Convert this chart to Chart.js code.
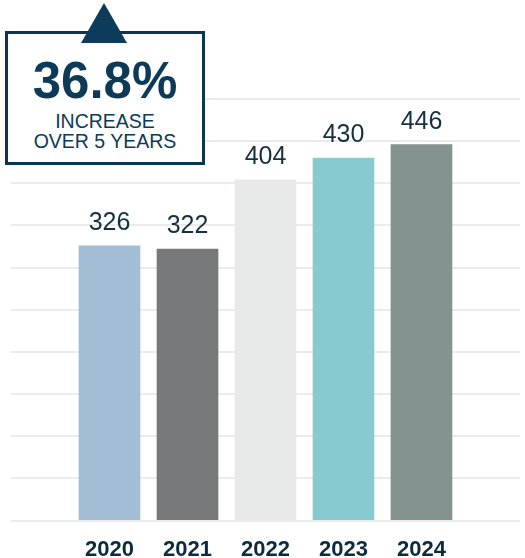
<!DOCTYPE html>
<html>
<head>
<meta charset="utf-8">
<script src="https://cdn.jsdelivr.net/npm/chart.js@4"></script>
<style>
  html, body { margin: 0; padding: 0; background: #fff; }
  body { width: 525px; height: 558px; position: relative; overflow: hidden; font-family: "Liberation Sans", Arial, sans-serif; }
  #chart-wrap { position: absolute; left: 0; top: 0; width: 525px; height: 558px; }
  .callout { position: absolute; left: 5px; top: 31px; width: 200px; height: 134px; box-sizing: border-box; border: 3px solid #0b3754; background: #fff; }
  .callout-arrow { position: absolute; left: 0; top: 0; }
  .callout-line { position: absolute; left: 5px; width: 200px; text-align: center; color: #0c3a57; white-space: nowrap; }
  .big { top: 55px; font-size: 51px; line-height: 51px; font-weight: bold; }
  .small { font-size: 19.5px; line-height: 19.5px; }
</style>
</head>
<body>
<div id="chart-wrap"><canvas id="growth-chart" width="525" height="558"></canvas></div>

<div class="callout"></div>
<svg class="callout-arrow" width="140" height="50">
  <polygon points="104,3 81,43 127,43" fill="#0d3c5a"></polygon>
</svg>
<div class="callout-line big">36.8%</div>
<div class="callout-line small" style="top: 112px;">INCREASE</div>
<div class="callout-line small" style="top: 132px;">OVER 5 YEARS</div>

<script>
const years = [2020, 2021, 2022, 2023, 2024];
const counts = [326, 322, 404, 430, 446];
const barColors = ['#a3bed4', '#76797a', '#e8eae9', '#87cacf', '#84938f'];

const chartCanvas = document.getElementById("growth-chart");

// write the number above each bar
const valueLabels = {
    id: 'valueLabels',
    afterDatasetsDraw(chart) {
        const ctx = chart.ctx;
        const meta = chart.getDatasetMeta(0);
        ctx.save();
        ctx.font = '25px "Liberation Sans", Arial, sans-serif';
        ctx.fillStyle = '#15303f';
        ctx.textAlign = 'center';
        ctx.textBaseline = 'alphabetic';
        meta.data.forEach((bar, i) => {
            ctx.fillText(String(counts[i]), bar.x, bar.y - 16);
        });
        ctx.restore();
    }
};

new Chart(chartCanvas, {
    type: 'bar',
    data: {
        datasets: [{
            data: years.map((year, i) => ({ x: year, y: counts[i] })),
            backgroundColor: barColors,
            borderWidth: 0,
            barThickness: 61,
        }]
    },
    options: {
        responsive: false,
        animation: false,
        layout: {
            padding: { left: 11, right: 5, top: 99, bottom: -13 }
        },
        plugins: {
            legend: { display: false },
            tooltip: { enabled: false },
        },
        scales: {
            x: {
                type: 'linear',
                offset: false,
                min: 2018.737,
                max: 2025.263,
                afterBuildTicks: (scale) => {
                    scale.ticks = years.map((year) => ({ value: year }));
                },
                grid: { display: false },
                border: { display: false },
                ticks: {
                    padding: 8,
                    autoSkip: false,
                    maxRotation: 0,
                    color: '#0c2b3e',
                    font: { family: '"Liberation Sans", Arial, sans-serif', size: 22, weight: 'bold' },
                    callback: (value) => String(value),
                },
            },
            y: {
                min: 0,
                max: 500,
                ticks: { display: false, stepSize: 50 },
                grid: { color: '#ebebeb', lineWidth: 2, drawTicks: false },
                border: { display: false },
            },
        },
    },
    plugins: [valueLabels],
});
</script>
</body>
</html>
